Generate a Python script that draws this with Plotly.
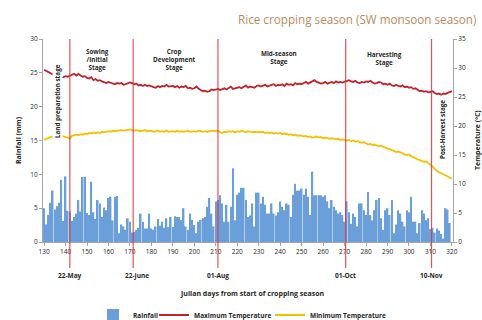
import plotly.graph_objects as go

days = list(range(130, 321))

rainfall = [
    5.0, 2.6, 4.0, 5.8, 7.6, 4.8, 5.3, 5.8, 9.2, 3.1, 9.7, 4.6,
    4.5, 3.1, 3.7, 4.2, 6.2, 4.5, 9.6, 9.6, 4.3, 4.0, 8.9, 4.4, 3.4,
    6.2, 5.7, 3.7, 5.1, 4.7, 6.5, 6.7, 3.2, 6.7, 6.8,
    1.3, 2.6, 2.3, 1.8, 3.5, 3.0, 1.4,
    1.5, 1.8, 2.1, 4.2, 3.0, 2.0, 2.0, 4.2, 2.0, 1.8, 2.3, 3.4, 2.4, 3.0, 2.1, 3.5, 2.2, 3.7, 2.2,
    3.8, 3.7, 3.7, 3.25, 5.0, 2.3, 1.8, 4.2, 3.25, 2.5, 1.3, 3.0, 3.25, 3.5, 3.7, 5.2, 6.5, 4.2, 2.3, 6.0,
    6.2, 6.9, 5.7, 3.0, 5.5, 3.0, 5.2, 10.9, 3.2, 7.0,
    7.3, 8.0, 8.0, 6.2, 3.7, 3.9, 5.7, 2.3, 7.3, 7.3,
    5.7, 6.7, 5.5, 4.2, 4.2, 5.7, 4.2, 3.9, 4.4, 6.0,
    5.2, 4.7, 5.7, 5.5, 3.7, 7.0, 8.6, 7.6, 7.6, 7.9,
    7.0, 7.9, 6.7, 4.0, 10.4,
    6.9, 6.9, 6.9, 6.9, 6.7, 6.9, 6.0, 5.0, 6.2, 5.2, 4.7, 4.2, 4.4, 4.0, 3.0,
    6.0, 4.4, 2.7, 4.2, 3.7, 2.3, 5.7, 5.7, 4.7, 4.0,
    7.4, 4.0, 3.2, 4.7, 6.2, 6.5, 3.5, 1.8, 4.7, 5.0,
    4.0, 6.2, 1.3, 2.6, 4.7, 4.2, 3.0, 2.3, 4.7, 4.4,
    6.7, 3.0, 3.0, 1.3, 2.8, 4.7, 4.2, 3.2, 3.5,
    1.9, 2.1, 1.4, 2.0, 1.7, 1.2, 0.5, 5.0, 4.8, 2.8, 0.0,
]

max_temp = [
    29.7, 29.5, 29.3, 29.0, 28.9, 28.8, 28.6, 28.5, 28.3, 28.4,
    28.6, 28.5, 28.7, 28.9, 29.0, 28.7, 29.0, 28.7, 28.5, 28.6,
    28.3, 28.2, 28.4, 27.9, 28.1, 27.8, 27.9, 27.7, 27.5, 27.4,
    27.6, 27.5, 27.3, 27.2, 27.4, 27.3, 27.4, 27.1, 27.2, 27.3,
    27.5, 27.4, 27.2, 27.3, 27.0, 27.1, 26.9, 27.1, 26.9, 27.0,
    26.8, 26.7, 26.6, 26.9, 26.7, 26.9, 26.8, 27.1, 26.8, 26.9,
    26.9, 26.7, 26.9, 26.6, 26.8, 26.7, 26.9, 26.5, 26.6, 26.4,
    26.5, 26.8, 26.4, 26.2, 26.0, 26.1, 25.9, 26.0, 26.3, 26.2,
    26.3, 26.4, 26.2, 26.4, 26.5, 26.3, 26.6, 26.8, 26.4, 26.5,
    26.6, 26.7, 26.5, 26.7, 27.0, 26.6, 26.8, 26.7, 26.6, 26.9,
    27.0, 26.8, 26.9, 27.1, 26.8, 27.0, 27.1, 27.2, 26.9, 27.1,
    27.0, 27.2, 26.9, 27.3, 27.1, 27.2, 27.0, 27.4, 27.2, 27.3,
    27.2, 27.4, 27.6, 27.3, 27.5, 27.8, 27.9, 27.6, 27.5, 27.3,
    27.4, 27.6, 27.3, 27.5, 27.6, 27.4, 27.7, 27.5, 27.6, 27.5,
    27.6, 27.8, 27.9, 27.7, 27.6, 27.8, 27.5, 27.4, 27.6, 27.5,
    27.7, 27.6, 27.8, 27.5, 27.3, 27.4, 27.6, 27.5, 27.2, 27.3,
    27.1, 27.3, 27.0, 26.9, 27.1, 26.9, 26.8, 27.0, 26.7, 26.8,
    26.6, 26.7, 26.4, 26.5, 26.2, 26.0, 26.1, 25.9, 26.0, 25.8,
    25.9, 26.0, 25.7, 25.5, 25.6, 25.4, 25.6, 25.5, 25.7, 25.8, 26.0,
]

min_temp = [
    17.6, 17.8, 18.0, 18.1, 18.2, 18.2, 18.3, 18.2, 18.3, 18.2,
    18.1, 17.9, 17.8, 18.3, 18.4, 18.5, 18.4, 18.6, 18.5, 18.7,
    18.6, 18.8, 18.7, 18.9, 18.8, 18.9, 18.8, 19.0, 18.9, 19.0,
    19.1, 19.0, 19.2, 19.1, 19.2, 19.2, 19.3, 19.2, 19.3, 19.4,
    19.4, 19.3, 19.2, 19.3, 19.2, 19.1, 19.2, 19.3, 19.1, 19.2,
    19.2, 19.0, 19.1, 19.2, 19.0, 19.1, 19.0, 19.2, 19.0, 19.1,
    19.1, 19.0, 19.2, 19.0, 19.1, 19.0, 19.1, 19.2, 19.0, 19.1,
    19.1, 19.0, 19.2, 19.1, 19.0, 19.1, 19.0, 19.1, 19.2, 19.1,
    19.2, 19.1, 19.0, 18.8, 19.0, 18.9, 19.1, 19.0, 19.1, 18.9,
    19.1, 19.0, 19.2, 19.0, 18.9, 19.1, 19.0, 18.9, 19.0, 18.9,
    19.0, 18.9, 19.0, 18.8, 18.9, 18.8, 18.9, 18.7, 18.8, 18.7,
    18.8, 18.6, 18.7, 18.6, 18.5, 18.6, 18.4, 18.5, 18.3, 18.4,
    18.3, 18.2, 18.3, 18.1, 18.2, 18.0, 18.1, 18.2, 18.0, 18.1,
    17.9, 18.0, 17.9, 17.8, 17.9, 17.8, 17.7, 17.8, 17.6, 17.7,
    17.6, 17.5, 17.6, 17.4, 17.5, 17.3, 17.4, 17.2, 17.1, 17.2,
    17.0, 16.8, 16.9, 16.7, 16.8, 16.6, 16.5, 16.6, 16.4, 16.3,
    16.1, 16.0, 15.8, 15.7, 15.5, 15.6, 15.4, 15.2, 15.1, 15.0,
    15.1, 14.8, 14.6, 14.5, 14.3, 14.1, 14.0, 13.8, 13.9, 13.6,
    13.4, 13.0, 12.6, 12.3, 12.0, 11.9, 11.7, 11.5, 11.3, 11.1, 10.9,
]

x_ticks = list(range(130, 321, 10))
boundary_days = [142, 171.5, 211, 270.5, 310.5]
boundary_dates = ["22-May", "22-June", "01-Aug", "01-Oct", "10-Nov"]
stage_names = ["Sowing<br>/Initial<br>Stage", "Crop<br>Development<br>Stage",
               "Mid-season<br>Stage", "Harvesting<br>Stage"]

FONT = "Open Sans, Liberation Sans, sans-serif"
TXT = "#262626"

# plot-area geometry in pixels
L, R, T, B = 43, 453, 39, 242
PW, PH = R - L, B - T


def px_x(p):
    return (p - L) / PW


def px_y(p):
    return (B - p) / PH


fig = go.Figure()
fig.add_trace(go.Bar(x=days, y=rainfall, name="Rainfall", legend="legend",
                     marker=dict(color="#6b9fd9", line=dict(width=0)), yaxis="y"))
fig.add_trace(go.Scatter(x=days, y=max_temp, name="Maximum Temperature", mode="lines",
                         legend="legend2",
                         line=dict(color="#c0232c", width=1.8), yaxis="y2"))
fig.add_trace(go.Scatter(x=days, y=min_temp, name="Minimum Temperature", mode="lines",
                         legend="legend3",
                         line=dict(color="#f2c200", width=1.8), yaxis="y2"))

shapes = []
for d in boundary_days:
    shapes.append(dict(type="line", xref="x", yref="paper", x0=d, x1=d, y0=px_y(268), y1=1,
                       line=dict(color="rgba(225,50,60,0.85)", width=1.2), layer="above"))

ann = []


def add_text(x, y, text, size, xref="paper", angle=0, bg=None, color=TXT,
             xanchor="center", xshift=0):
    a = dict(x=x, y=y, xref=xref, yref="paper", text=text, showarrow=False,
             xanchor=xanchor, yanchor="middle", textangle=angle, xshift=xshift,
             font=dict(size=size, color=color, family=FONT))
    if bg:
        a["bgcolor"] = bg
        a["borderpad"] = 0
    ann.append(a)


for d, lab in zip(boundary_days, boundary_dates):
    add_text(d, px_y(275), "<b>%s</b>" % lab, 6.5, xref="x",
             xshift=4 if lab == "22-June" else 0)

stage_x_px = [97, 174, 279, 384]
stage_y_px = [59, 59, 57, 58]
for xp, yp, name in zip(stage_x_px, stage_y_px, stage_names):
    add_text(px_x(xp), px_y(yp), "<b>%s</b>" % name, 6.3)

add_text(px_x(57), px_y(101), "<b>Land preparation stage</b>", 6.3, angle=-90, bg="white")
add_text(px_x(442), px_y(130), "<b>Post-Harvest stage</b>", 6.3, angle=-90, bg="white")
add_text(px_x(18), px_y(140), "<b>Rainfall (mm)</b>", 7, angle=-90)
add_text(px_x(477), px_y(140), "<b>Temperature (ºC)</b>", 7, angle=-90)
add_text(px_x(252), px_y(293), "<b>Julian days from start of cropping season</b>", 7)
add_text(px_x(478), px_y(19), "Rice cropping season (SW monsoon season)", 11.7,
         color="#b98a5e", xanchor="right")

axis_common = dict(showline=True, linecolor="#a6a6a6", linewidth=1, showgrid=False,
                   zeroline=False, ticks="outside", ticklen=3, tickcolor="#a6a6a6",
                   tickfont=dict(size=6.5, color=TXT, family=FONT), automargin=False)

legend_common = dict(orientation="h", xanchor="left", xref="container",
                     y=1 - 315 / 320, yanchor="middle", yref="container",
                     font=dict(size=6.5, color=TXT, family=FONT, weight="bold"),
                     itemwidth=30, bgcolor="rgba(0,0,0,0)")

fig.update_layout(
    width=482, height=320,
    margin=dict(l=L, r=482 - R, t=T, b=320 - B, autoexpand=False),
    paper_bgcolor="white", plot_bgcolor="white",
    bargap=0.25,
    showlegend=True,
    legend=dict(x=93 / 482, **legend_common),
    legend2=dict(x=154 / 482, **legend_common),
    legend3=dict(x=270 / 482, **legend_common),
    xaxis=dict(range=[129.5, 320.5], tickvals=x_ticks, **axis_common),
    yaxis=dict(range=[0, 30], dtick=5, **axis_common),
    yaxis2=dict(range=[0, 35], dtick=5, overlaying="y", side="right", **axis_common),
    shapes=shapes,
    annotations=ann,
)

fig.write_html("out.html", config={"displayModeBar": False},
               post_script="document.body.style.margin='0px';")
